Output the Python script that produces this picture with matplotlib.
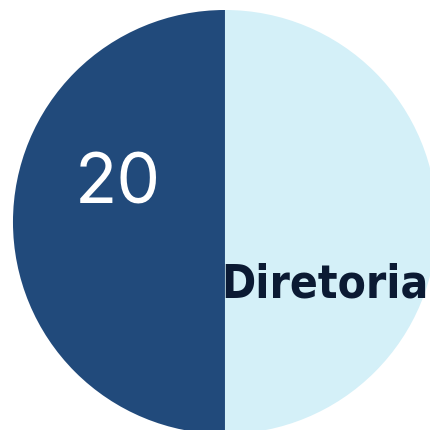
import matplotlib
import matplotlib.pyplot as plt
from matplotlib import font_manager

matplotlib.use('Agg')

# slice values, labels and colours
values = [20, 20]
value_labels = ['20', '']
names = ['', 'Diretoria']
colors = ['#214a7b', '#d4f0f8']

fig = plt.figure(figsize=(4.31, 4.31), dpi=100)
# pie sits off-centre and runs past the right and bottom edges
ax = fig.add_axes([0.522 - 0.4919, 0.4826 - 0.4919, 0.9838, 0.9838])
wedges, _ = ax.pie(values, colors=colors, startangle=90, counterclock=True,
                   radius=1, wedgeprops=dict(linewidth=0))
for w in wedges:
    w.set_clip_on(False)
ax.set_xlim(-1, 1)
ax.set_ylim(-1, 1)
ax.set_aspect('equal')
ax.axis('off')

print(sorted({f.name for f in font_manager.fontManager.ttflist}))
print([f.fname for f in font_manager.fontManager.ttflist if 'Condensed' in f.fname or 'Narrow' in f.fname])

ax.text(-0.505, 0.18, value_labels[0], color='white', fontsize=50,
        family='Inter', ha='center', va='center')
ax.text(0.472, -0.292, names[1], color='#0b1a33', fontsize=33,
        family='DejaVu Sans', stretch='condensed', fontweight='bold',
        ha='center', va='center')

plt.savefig('out.png', dpi=100)
